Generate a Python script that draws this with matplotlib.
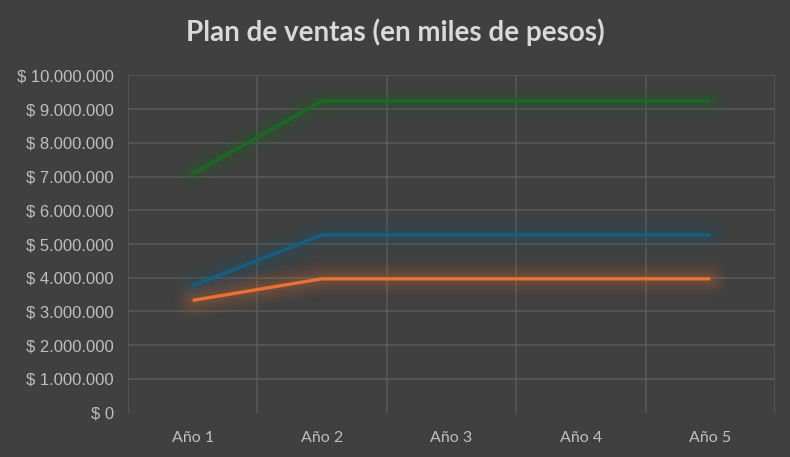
import matplotlib
matplotlib.use("Agg")
import matplotlib.pyplot as plt
from matplotlib.ticker import FuncFormatter, FixedLocator

categories = ["Año 1", "Año 2", "Año 3", "Año 4", "Año 5"]
serie_azul = [3760000, 5270000, 5270000, 5270000, 5270000]
serie_naranja = [3330000, 3970000, 3970000, 3970000, 3970000]
serie_verde = [7090000, 9240000, 9240000, 9240000, 9240000]

title = "Plan de ventas (en miles de pesos)"

bg = "#404040"
grid_c = "#5a5a5a"
text_c = "#bfbfbf"

plt.rcParams['font.family'] = ['Lato', 'DejaVu Sans']

fig = plt.figure(figsize=(7.9, 4.57), dpi=100, facecolor=bg)
ax = fig.add_axes([0.162, 0.097, 0.819, 0.738], facecolor=bg)

x = list(range(1, len(categories) + 1))
series = [(serie_verde, "#196B24"), (serie_azul, "#156082"), (serie_naranja, "#E97132")]
for vals, col in series:
    for lw, a in [(26, 0.04), (21, 0.045), (16, 0.055), (11, 0.065), (7, 0.09)]:
        ax.plot(x, vals, color=col, lw=lw, alpha=a, solid_capstyle='round',
                solid_joinstyle='round', zorder=2)
for vals, col in series:
    ax.plot(x, vals, color=col, lw=2.4, solid_capstyle='butt', zorder=3)

ax.set_xlim(0.5, len(categories) + 0.5)
ax.set_ylim(0, 10000000)
ax.yaxis.set_major_locator(FixedLocator(range(0, 10000001, 1000000)))
ax.yaxis.set_major_formatter(FuncFormatter(
    lambda v, p: "$ " + f"{int(round(v)):,}".replace(",", ".")))
ax.set_xticks(x)
ax.set_xticklabels(categories)

for yv in range(1000000, 10000001, 1000000):
    ax.axhline(yv, color=grid_c, lw=1.1, zorder=0)
for xv in [i + 0.5 for i in range(0, len(categories) + 1)]:
    ax.axvline(xv, color=grid_c, lw=1.1, zorder=0)
for s in ax.spines.values():
    s.set_visible(False)
ax.tick_params(axis='both', which='both', length=0, colors=text_c)
ax.tick_params(axis='y', pad=10, labelsize=12, labelfontfamily='Liberation Sans')
ax.tick_params(axis='x', pad=13, labelsize=11.5, labelfontfamily='Lato')

fig.text(0.5, 0.93, title, ha='center', va='center', color="#d9d9d9",
         fontsize=20, fontweight='bold')

fig.savefig("out.png", dpi=100, facecolor=bg)
